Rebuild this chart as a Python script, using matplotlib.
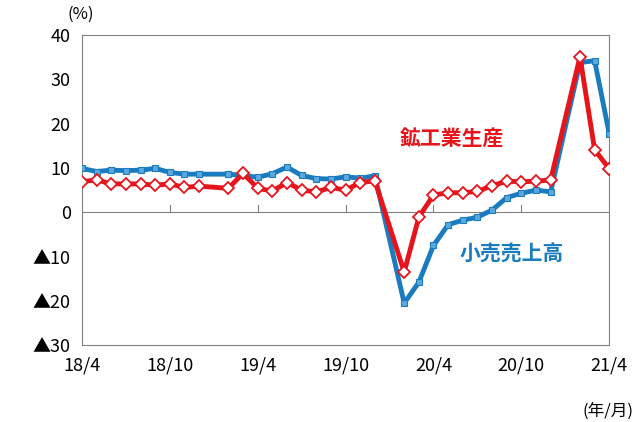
import numpy as np
import matplotlib
matplotlib.use("Agg")
import matplotlib.pyplot as plt

plt.rcParams['font.family'] = ['Noto Sans CJK JP', 'DejaVu Sans']

months = list(range(37))  # 0 = 18/4 ... 36 = 21/4
ind = [6.9, 7.3, 6.4, 6.4, 6.4, 6.1, 6.4, 5.6, 5.9, np.nan, 5.4, 8.8, 5.4, 4.8, 6.7, 5.0, 4.6, 5.6, 5.0, 6.7, 7.1,
       np.nan, -13.5, -1.1, 3.9, 4.4, 4.4, 4.7, 6.0, 7.0, 6.9, 7.0, 7.3, np.nan, 35.1, 14.1, 9.8]
ret = [9.9, 9.2, 9.5, 9.4, 9.5, 9.9, 9.0, 8.6, 8.6, np.nan, 8.6, 8.3, 7.9, 8.7, 10.2, 8.3, 7.6, 7.5, 8.0, 7.7, 8.2,
       np.nan, -20.5, -15.8, -7.5, -2.8, -1.8, -1.1, 0.5, 3.3, 4.3, 5.0, 4.6, np.nan, 33.8, 34.2, 17.7]
xticks = [0, 6, 12, 18, 24, 30, 36]
xticklabels = ['18/4', '18/10', '19/4', '19/10', '20/4', '20/10', '21/4']
yticks = [-30, -20, -10, 0, 10, 20, 30, 40]
yticklabels = ['▲30', '▲20', '▲10', '0', '10', '20', '30', '40']

red = '#e8141c'
blue = '#1b7bbf'

fig = plt.figure(figsize=(6.4, 4.22), dpi=100)
ax = fig.add_axes([0.128, 0.182, 0.824, 0.735])

def valid(y):
    x = np.array(months); y = np.array(y)
    m = ~np.isnan(y)
    return x[m], y[m]

xb, yb = valid(ret)
ax.plot(xb, yb, color=blue, lw=3.5, marker='s', ms=4, mfc='#5aa9dd', mec=blue, mew=0.8, zorder=3)
xr, yr = valid(ind)
ax.plot(xr, yr, color=red, lw=3.5, marker='D', ms=6, mfc='white', mec=red, mew=1.3, zorder=4)

ax.axhline(0, color='#808080', lw=0.8, zorder=1)
for t in xticks[1:-1]:
    ax.plot([t, t], [0, 1.6], color='#808080', lw=0.8, zorder=1)

ax.set_xlim(0, 36)
ax.set_ylim(-30, 40)
ax.set_xticks(xticks)
ax.set_xticklabels(xticklabels, fontsize=13)
ax.set_yticks(yticks)
ax.set_yticklabels(yticklabels, fontsize=13)
ax.tick_params(length=0, pad=8)
for s in ax.spines.values():
    s.set_color('#808080'); s.set_linewidth(0.8)

fig.text(0.105, 0.955, '(%)', fontsize=12, ha='left')
fig.text(0.99, 0.015, '(年/月)', fontsize=12, ha='right')
ax.text(21.7, 15.0, '鉱工業生産', color=red, fontsize=15, fontweight='bold')
ax.text(25.8, -11.0, '小売売上高', color=blue, fontsize=15, fontweight='bold')

fig.savefig('out.png', dpi=100)
